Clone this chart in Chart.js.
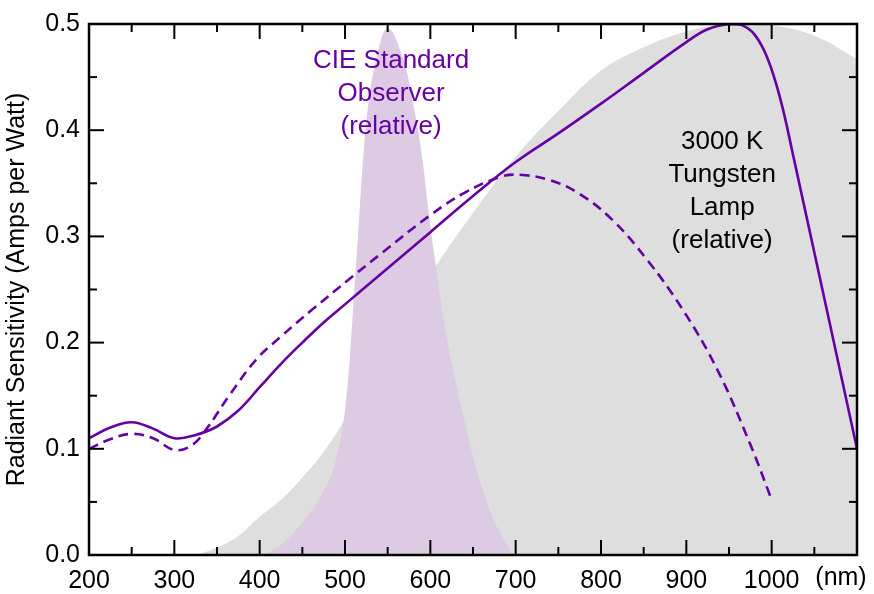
<!DOCTYPE html>
<html>
<head>
<meta charset="utf-8">
<script src="https://cdn.jsdelivr.net/npm/chart.js@4/dist/chart.umd.min.js"></script>
<style>
  html,body{margin:0;padding:0;background:#fff;}
  canvas{display:block;}
</style>
</head>
<body>
<canvas id="chart" width="874" height="594"></canvas>
<script>
// photodiode, no filter (solid)
const diodeNm = [200,225,250,275,300,325,350,375,400,425,450,475,500,550,600,650,700,750,800,850,900,925,950,965,980,995,1010,1025,1100];
const diodeAW = [0.110,0.120,0.125,0.119,0.110,0.113,0.121,0.136,0.158,0.180,0.200,0.219,0.236,0.270,0.304,0.338,0.370,0.397,0.425,0.454,0.483,0.495,0.500,0.499,0.490,0.468,0.430,0.377,0.100];

// photodiode with filter (dashed)
const filterNm = [200,225,250,275,300,320,338,365,397,424,463,510,541,600,640,682,705,740,775,814,854,895,936,975,1000];
const filterAW = [0.100,0.109,0.114,0.110,0.099,0.103,0.119,0.151,0.185,0.205,0.232,0.263,0.283,0.320,0.341,0.356,0.358,0.353,0.340,0.315,0.278,0.232,0.175,0.104,0.052];

// CIE standard observer (relative)
const cieNm  = [404,415,430,445,460,470,480,485,490,496,501,506,511,516,521,527,537,550,567,580,590,597,605,615,625,637,650,662,675,685,697];
const cieRel = [0,0.004,0.013,0.026,0.041,0.053,0.068,0.078,0.092,0.115,0.143,0.190,0.250,0.310,0.370,0.422,0.468,0.496,0.470,0.424,0.377,0.330,0.280,0.225,0.180,0.137,0.093,0.060,0.032,0.016,0];

// 3000 K tungsten lamp (relative)
const lampNm  = [326,350,375,400,425,450,475,500,550,600,650,700,750,800,850,900,950,975,1000,1050,1100];
const lampRel = [0,0.007,0.018,0.036,0.052,0.073,0.097,0.128,0.198,0.264,0.322,0.375,0.418,0.456,0.478,0.493,0.500,0.500,0.499,0.489,0.467];

const xTicks = [200,300,400,500,600,700,800,900,1000];
const yTicks = [0.0,0.1,0.2,0.3,0.4,0.5];

const purple = "#6600a3";
const fontFam = "'Liberation Sans', Arial, Helvetica, sans-serif";

const pts = (xs, ys) => xs.map((x,i)=>({x, y:ys[i]}));

const frame = {
  id:"frame",
  afterDatasetsDraw(chart){
    const {ctx, chartArea:{left,right,top,bottom}, scales:{x,y}} = chart;
    ctx.save();
    ctx.strokeStyle = "#000";
    ctx.lineWidth = 2;
    const seg = (a,b,c,d)=>{ ctx.beginPath(); ctx.moveTo(a,b); ctx.lineTo(c,d); ctx.stroke(); };
    for(let v=200; v<=1100; v+=50){
      const px = x.getPixelForValue(v);
      const len = v%100===0 ? 15 : 8;
      seg(px,bottom,px,bottom-len);
      seg(px,top,px,top+len);
    }
    for(let i=0; i<=10; i++){
      const py = y.getPixelForValue(i*0.05);
      const len = i%2===0 ? 15 : 8;
      seg(left,py,left+len,py);
      seg(right,py,right-len,py);
    }
    ctx.lineWidth = 2.5;
    ctx.strokeRect(left,top,right-left,bottom-top);
    ctx.restore();
  },
  afterDraw(chart){
    const {ctx, scales:{x,y}} = chart;
    ctx.save();
    ctx.font = "26px " + fontFam;
    ctx.textAlign = "center";
    ctx.textBaseline = "middle";
    ctx.fillStyle = purple;
    const cx = x.getPixelForValue(554);
    ["CIE Standard","Observer","(relative)"].forEach((t,i)=>ctx.fillText(t, cx, 61 + i*33));
    ctx.fillStyle = "#000";
    const tx = x.getPixelForValue(942);
    ["3000 K","Tungsten","Lamp","(relative)"].forEach((t,i)=>ctx.fillText(t, tx, 142 + i*33));
    ctx.font = "25px " + fontFam;
    ctx.fillText("(nm)", 841, 578);
    ctx.restore();
  }
};

new Chart(document.getElementById("chart"), {
  type:"line",
  data:{
    datasets:[
      { label:"Photodiode", data:pts(diodeNm,diodeAW), borderColor:purple, borderWidth:2.6,
        pointRadius:0, fill:false, tension:0.4, order:0 },
      { label:"With filter", data:pts(filterNm,filterAW), borderColor:purple, borderWidth:2.6,
        borderDash:[10,6], pointRadius:0, fill:false, tension:0.4, order:1 },
      { label:"CIE Standard Observer", data:pts(cieNm,cieRel), borderWidth:0, borderColor:"rgba(0,0,0,0)",
        backgroundColor:"#dccbe3", pointRadius:0, fill:"origin", tension:0.4, order:2 },
      { label:"3000 K Tungsten Lamp", data:pts(lampNm,lampRel), borderWidth:0, borderColor:"rgba(0,0,0,0)",
        backgroundColor:"#dedede", pointRadius:0, fill:"origin", tension:0.4, order:3 }
    ]
  },
  options:{
    responsive:false,
    animation:false,
    layout:{ padding:{ top:18, right:17, left:0, bottom:0 } },
    plugins:{ legend:{ display:false }, tooltip:{ enabled:false } },
    scales:{
      x:{
        type:"linear", min:200, max:1100,
        grid:{ display:false, drawTicks:false }, border:{ display:false },
        afterBuildTicks: s => { s.ticks = xTicks.map(v=>({value:v})); },
        ticks:{ color:"#000", font:{ family:fontFam, size:25 }, padding:11, maxRotation:0, autoSkip:false,
          callback: v => String(v) },
        afterFit: s => { s.height = 39; }
      },
      y:{
        min:0, max:0.5,
        grid:{ display:false, drawTicks:false }, border:{ display:false },
        afterBuildTicks: s => { s.ticks = yTicks.map(v=>({value:v})); },
        ticks:{ color:"#000", font:{ family:fontFam, size:25 }, padding:9, callback: v => v.toFixed(1) },
        title:{ display:true, text:"Radiant Sensitivity (Amps per Watt)", color:"#000",
          font:{ family:fontFam, size:25 }, padding:{ top:2, bottom:0 } },
        afterFit: s => { s.width = 89; }
      }
    }
  },
  plugins:[frame]
});
</script>
</body>
</html>
